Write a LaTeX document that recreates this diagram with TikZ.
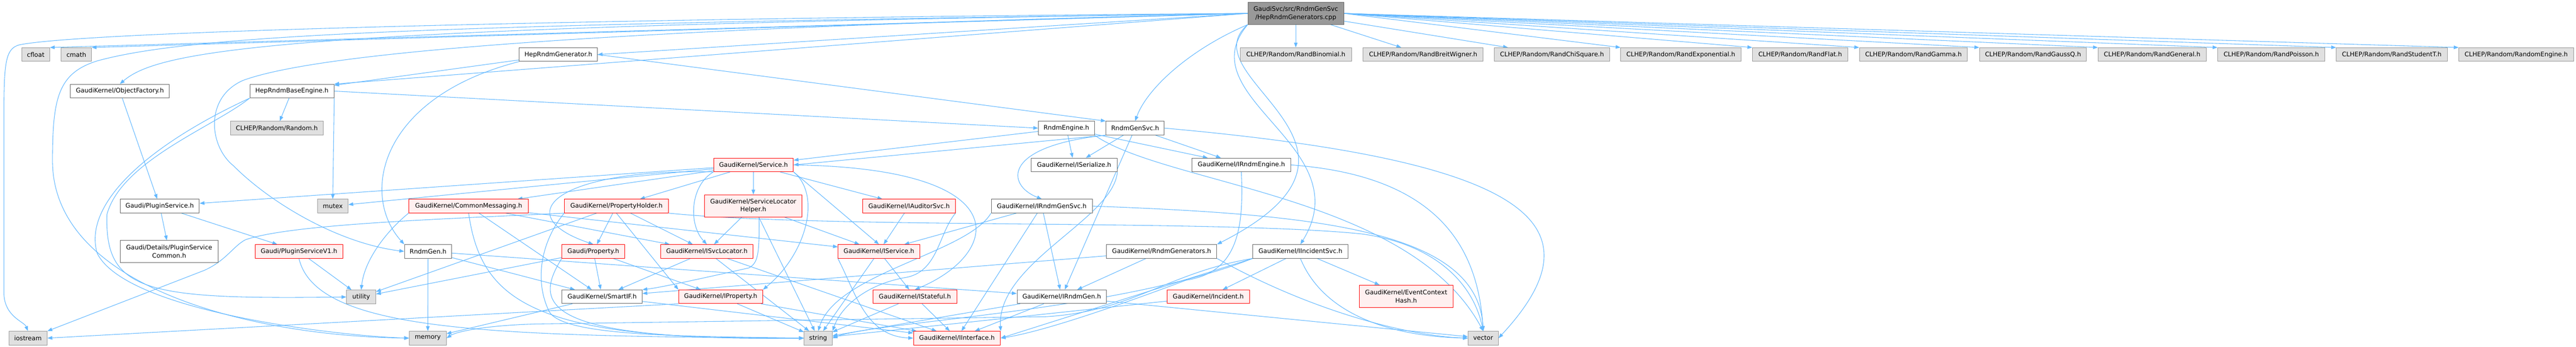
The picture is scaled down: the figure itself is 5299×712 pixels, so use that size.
\documentclass[tikz,border=0pt]{standalone}
\usepackage{fontspec}
\setmainfont{DejaVu Sans}
\usepackage{tikz}
\usetikzlibrary{arrows.meta}
\usetikzlibrary{backgrounds}

\definecolor{deplink}{HTML}{63B8FF}
\definecolor{sysfill}{HTML}{E0E0E0}
\definecolor{sysline}{HTML}{999999}
\definecolor{hdrline}{HTML}{666666}
\definecolor{redfill}{HTML}{FFF0F0}
\definecolor{redline}{HTML}{FF0000}
\definecolor{srcfill}{HTML}{999999}

\begin{document}
\begin{tikzpicture}[
    x=0.75pt, y=-0.75pt, % one unit is one pixel of the graph, y grows downwards
    every node/.style={
        draw, % a box around every file
        line width=0.75pt,
        inner xsep=2pt,
        inner ysep=1pt,
        minimum height=21pt,
        align=center, % two-line names
        font=\fontsize{9.6}{12.6}\selectfont
    },
    boxw/.style={minimum width=#1*0.75pt}, % box width in pixels
    sysfile/.style={fill=sysfill, draw=sysline}, % system and external headers
    hdrfile/.style={fill=white, draw=hdrline}, % plain headers
    redfile/.style={fill=redfill, draw=redline}, % headers with hidden includes
    srcfile/.style={fill=srcfill, draw=hdrline}, % the file itself
    dep/.style={draw=deplink, line width=0.85pt, -{Triangle[length=7.5pt,width=5.5pt]}} % include edge
]
\useasboundingbox (0,0) rectangle (5299,712);

% the source file
\node[srcfile, boxw=197, minimum height=34pt] (main) at (2665.5,27.5) {GaudiSvc/src/RndmGenSvc\\/HepRndmGenerators.cpp};

% first row
\node[sysfile, boxw=57] (cfloat) at (73.5,112) {cfloat};
\node[sysfile, boxw=62] (cmath) at (157,112) {cmath};
\node[hdrfile, boxw=161] (hepgen) at (1148.5,112) {HepRndmGenerator.h};
\node[sysfile, boxw=229] (randbinom) at (2665.5,112) {CLHEP/Random/RandBinomial.h};
\node[sysfile, boxw=247] (randbw) at (2927.5,112) {CLHEP/Random/RandBreitWigner.h};
\node[sysfile, boxw=237] (randchi) at (3192.5,112) {CLHEP/Random/RandChiSquare.h};
\node[sysfile, boxw=247] (randexp) at (3457.5,112) {CLHEP/Random/RandExponential.h};
\node[sysfile, boxw=196] (randflat) at (3703,112) {CLHEP/Random/RandFlat.h};
\node[sysfile, boxw=222] (randgamma) at (3936,112) {CLHEP/Random/RandGamma.h};
\node[sysfile, boxw=220] (randgaussq) at (4182,112) {CLHEP/Random/RandGaussQ.h};
\node[sysfile, boxw=222] (randgeneral) at (4427,112) {CLHEP/Random/RandGeneral.h};
\node[sysfile, boxw=220] (randpoisson) at (4672,112) {CLHEP/Random/RandPoisson.h};
\node[sysfile, boxw=228] (randstudent) at (4920,112) {CLHEP/Random/RandStudentT.h};
\node[sysfile, boxw=236] (randengine) at (5176,112) {CLHEP/Random/RandomEngine.h};

% engines
\node[hdrfile, boxw=203] (objfactory) at (246.5,187) {GaudiKernel/ObjectFactory.h};
\node[hdrfile, boxw=173] (hepbase) at (600.5,187) {HepRndmBaseEngine.h};
\node[sysfile, boxw=191] (clheprandom) at (569.5,263) {CLHEP/Random/Random.h};
\node[hdrfile, boxw=115] (rndmengine) at (2193.5,263) {RndmEngine.h};
\node[hdrfile, boxw=120] (rndmgensvc) at (2335,263) {RndmGenSvc.h};

% service layer
\node[redfile, boxw=164] (service) at (1550,338.5) {GaudiKernel/Service.h};
\node[hdrfile, boxw=177] (iserialize) at (2209.5,338.5) {GaudiKernel/ISerialize.h};
\node[hdrfile, boxw=203] (irndmengine) at (2553.5,338.5) {GaudiKernel/IRndmEngine.h};

\node[hdrfile, boxw=163] (pluginsvc) at (328.5,423) {Gaudi/PluginService.h};
\node[sysfile, boxw=63] (mutex) at (684.5,423) {mutex};
\node[redfile, boxw=246] (commonmsg) at (964,423) {GaudiKernel/CommonMessaging.h};
\node[redfile, boxw=214] (propholder) at (1268,423) {GaudiKernel/PropertyHolder.h};
\node[redfile, boxw=201, minimum height=34pt] (slhelper) at (1549.5,422.5) {GaudiKernel/ServiceLocator\\Helper.h};
\node[redfile, boxw=190] (iauditorsvc) at (1870,423) {GaudiKernel/IAuditorSvc.h};
\node[hdrfile, boxw=208] (irndmgensvc) at (2143,423) {GaudiKernel/IRndmGenSvc.h};

\node[hdrfile, boxw=202, minimum height=34pt] (plugincommon) at (348,516.5) {Gaudi/Details/PluginService\\Common.h};
\node[redfile, boxw=180] (pluginv1) at (615,516) {Gaudi/PluginServiceV1.h};
\node[hdrfile, boxw=97] (rndmgen) at (880.5,516) {RndmGen.h};
\node[redfile, boxw=129] (property) at (1220.5,516) {Gaudi/Property.h};
\node[redfile, boxw=190] (isvclocator) at (1454,516) {GaudiKernel/ISvcLocator.h};
\node[redfile, boxw=168] (iservice) at (1808,516) {GaudiKernel/IService.h};
\node[hdrfile, boxw=227] (rndmgens) at (2389.5,516) {GaudiKernel/RndmGenerators.h};
\node[hdrfile, boxw=196] (iincsvc) at (2675,516) {GaudiKernel/IIncidentSvc.h};

\node[sysfile, boxw=60] (utility) at (743,609.5) {utility};
\node[hdrfile, boxw=165] (smartif) at (1238.5,609) {GaudiKernel/SmartIF.h};
\node[redfile, boxw=173] (iproperty) at (1482.5,609) {GaudiKernel/IProperty.h};
\node[redfile, boxw=172] (istateful) at (1882,609) {GaudiKernel/IStateful.h};
\node[hdrfile, boxw=184] (irndmgen) at (2184,609) {GaudiKernel/IRndmGen.h};
\node[redfile, boxw=169] (incident) at (2485.5,609) {GaudiKernel/Incident.h};
\node[redfile, boxw=193, minimum height=34pt] (evctxhash) at (2892.5,608) {GaudiKernel/EventContext\\Hash.h};

% bottom row
\node[sysfile, boxw=79] (iostream) at (57.5,694) {iostream};
\node[sysfile, boxw=76] (memory) at (880,694) {memory};
\node[sysfile, boxw=58] (string) at (1683,694) {string};
\node[redfile, boxw=179] (iinterface) at (1968.5,694) {GaudiKernel/IInterface.h};
\node[sysfile, boxw=62] (vector) at (3051,694) {vector};

\begin{pgfonlayer}{background}
% includes of the source file
\draw[dep] (main.west) -- (cfloat.north east);
\draw[dep] (main.west) -- (cmath.north east);
\draw[dep] (main.west) .. controls (1500,35) and (200,60) .. (40,92) .. controls (10,100) and (8,130) .. (8,250) -- (8,600) .. controls (8,650) and (50,660) .. (iostream.north);
\draw[dep] (main.west) .. controls (900,50) and (400,70) .. (200,125) .. controls (120,150) and (108,200) .. (108,330) .. controls (108,590) and (520,690) .. (memory.west);
\draw[dep] (main.west) .. controls (600,55) and (330,100) .. (objfactory.north);
\draw[dep] (main.west) -- (hepbase.north east);
\draw[dep] (main.west) -- (hepgen.east);
\draw[dep] (main.west) .. controls (1200,60) and (650,110) .. (500,165) .. controls (420,200) and (430,300) .. (480,340) .. controls (560,420) and (700,500) .. (rndmgen.west);
\draw[dep] (main.south west) .. controls (2450,100) and (2360,180) .. (rndmgensvc.north);
\draw[dep] (main.south west) .. controls (2440,160) and (2900,300) .. (rndmgens.north east);
\draw[dep] (main.south west) .. controls (2440,200) and (2800,300) .. (iincsvc.north);
\draw[dep] (main) -- (randbinom);
\draw[dep] (main) -- (randbw);
\draw[dep] (main) -- (randchi);
\draw[dep] (main.east) -- (randexp.north west);
\draw[dep] (main.east) -- (randflat.north west);
\draw[dep] (main.east) -- (randgamma.north west);
\draw[dep] (main.east) -- (randgaussq.north west);
\draw[dep] (main.east) -- (randgeneral.north west);
\draw[dep] (main.east) -- (randpoisson.north west);
\draw[dep] (main.east) -- (randstudent.north west);
\draw[dep] (main.east) -- (randengine.north west);

% plugin service
\draw[dep] (objfactory) -- (pluginsvc);
\draw[dep] (pluginsvc) -- (plugincommon);
\draw[dep] (pluginsvc) -- (pluginv1);
\draw[dep] (pluginv1) -- (utility);
\draw[dep] (pluginv1.south) .. controls (650,680) and (1000,690) .. (string.west);

% engines and generators
\draw[dep] (hepbase) -- (clheprandom);
\draw[dep] (hepbase.south east) -- (mutex.north);
\draw[dep] (hepbase.south west) .. controls (440,260) and (250,330) .. (220,440) .. controls (215,600) and (300,615) .. (utility.west);
\draw[dep] (hepbase.south west) .. controls (300,300) and (170,420) .. (200,520) .. controls (260,640) and (700,690) .. (memory.west);
\draw[dep] (hepbase.east) -- (rndmengine.west);
\draw[dep] (hepgen) -- (hepbase);
\draw[dep] (hepgen.south west) .. controls (780,200) and (740,400) .. (rndmgen.north west);
\draw[dep] (hepgen.east) -- (rndmgensvc.north west);
\draw[dep] (rndmgen) -- (memory);
\draw[dep] (rndmgen) -- (smartif);
\draw[dep] (rndmgen) -- (irndmgen);
\draw[dep] (rndmengine) -- (service);
\draw[dep] (rndmengine) -- (iserialize);
\draw[dep] (rndmengine) -- (irndmengine);
\draw[dep] (rndmengine.south east) .. controls (2400,380) and (2900,400) .. (vector.north);
\draw[dep] (rndmgensvc.south west) -- (service.east);
\draw[dep] (rndmgensvc) -- (iserialize);
\draw[dep] (rndmgensvc) -- (irndmengine);
\draw[dep] (rndmgensvc.south west) .. controls (2060,300) and (2070,380) .. (irndmgensvc.north);
\draw[dep] (rndmgensvc) -- (irndmgen);
\draw[dep] (rndmgensvc.east) .. controls (3150,330) and (3300,460) .. (vector.east);

% service
\draw[dep] (service) -- (pluginsvc);
\draw[dep] (service) -- (mutex);
\draw[dep] (service) -- (commonmsg);
\draw[dep] (service) -- (propholder);
\draw[dep] (service) -- (slhelper);
\draw[dep] (service.south west) .. controls (1150,345) and (1040,440) .. (property.north);
\draw[dep] (service.south west) .. controls (1420,380) and (1415,460) .. (isvclocator.north);
\draw[dep] (service.south east) .. controls (1690,400) and (1660,520) .. (iproperty.north east);
\draw[dep] (service) -- (iauditorsvc);
\draw[dep] (service.south east) -- (iservice.north);
\draw[dep] (service.east) .. controls (2100,345) and (2060,520) .. (istateful.north);

% kernel headers
\draw[dep] (commonmsg.south west) .. controls (800,470) and (750,530) .. (utility.north);
\draw[dep] (commonmsg) -- (smartif);
\draw[dep] (commonmsg) -- (isvclocator);
\draw[dep] (commonmsg) -- (iservice);
\draw[dep] (commonmsg.south) .. controls (990,620) and (1100,700) .. (string.west);
\draw[dep] (propholder) -- (property);
\draw[dep] (propholder) -- (isvclocator);
\draw[dep] (propholder.south) -- (iproperty.north west);
\draw[dep] (propholder) -- (utility);
\draw[dep] (propholder.south west) .. controls (1110,500) and (1100,580) .. (1130,640) .. controls (1160,690) and (1400,690) .. (string.west);
\draw[dep] (propholder.south west) .. controls (900,450) and (600,460) .. (505,492) .. controls (480,505) and (465,535) .. (420,555) -- (iostream.north east);
\draw[dep] (propholder.south east) .. controls (1700,470) and (2500,450) .. (2800,480) .. controls (2950,500) and (3030,580) .. (vector.north);
\draw[dep] (slhelper) -- (isvclocator);
\draw[dep] (slhelper) -- (iservice);
\draw[dep] ([xshift=9pt]slhelper.south) .. controls (1562,520) and (1560,540) .. (1540,550) .. controls (1450,570) and (1360,590) .. (smartif.north east);
\draw[dep] (slhelper) -- (string);
\draw[dep] (property) -- (utility);
\draw[dep] (property) -- (smartif);
\draw[dep] (property) -- (iproperty);
\draw[dep] (property.south west) .. controls (1100,620) and (1100,700) .. (string.west);
\draw[dep] (isvclocator) -- (smartif);
\draw[dep] (isvclocator) -- (string);
\draw[dep] (isvclocator) -- (iinterface);
\draw[dep] (iauditorsvc) -- (iservice);
\draw[dep] (iauditorsvc.south east) .. controls (1930,480) and (1930,560) .. (1860,570) .. controls (1780,585) and (1730,630) .. (string.north east);
\draw[dep] (irndmgensvc) -- (iservice);
\draw[dep] (irndmgensvc) -- (irndmgen);
\draw[dep] (irndmgensvc) -- (iinterface);
\draw[dep] (irndmgensvc.south west) .. controls (1990,520) and (1720,560) .. (string.north);
\draw[dep] (irndmgensvc.east) .. controls (2700,440) and (3040,470) .. (vector.north);
\draw[dep] (iservice) -- (istateful);
\draw[dep] (iservice.south west) .. controls (1760,600) and (1780,690) .. (iinterface.west);
\draw[dep] (iservice) -- (string);
\draw[dep] (istateful) -- (iinterface);
\draw[dep] (istateful) -- (string);
\draw[dep] (irndmgen) -- (iinterface);
\draw[dep] (irndmgen) -- (string);
\draw[dep] (irndmgen) -- (vector);
\draw[dep] (smartif) -- (memory);
\draw[dep] (smartif) -- (iinterface);
\draw[dep] (iproperty) -- (iinterface);
\draw[dep] (iproperty) -- (string);
\draw[dep] (iproperty.south west) -- (iostream.east);
\draw[dep] (iserialize.south east) .. controls (2290,450) and (2050,540) .. (iinterface.north east);
\draw[dep] (irndmengine.south) .. controls (2560,480) and (2540,560) .. (2440,575) .. controls (2320,620) and (2150,680) .. (iinterface.east);
\draw[dep] (irndmengine.east) .. controls (2950,360) and (3040,500) .. (vector.north);
\draw[dep] (rndmgens) -- (irndmgen);
\draw[dep] (rndmgens) -- (smartif);
\draw[dep] (rndmgens.south east) .. controls (2700,640) and (2900,690) .. (vector.west);
\draw[dep] (iincsvc) -- (incident);
\draw[dep] (iincsvc) -- (evctxhash);
\draw[dep] (iincsvc.south west) -- (iinterface.east);
\draw[dep] (iincsvc.south west) .. controls (2300,640) and (1800,660) .. (string.east);
\draw[dep] (iincsvc.south) .. controls (2720,640) and (2850,690) .. (vector.west);
\draw[dep] (iincsvc.south west) .. controls (2400,560) and (2330,640) .. (2150,650) -- (1100,665) .. controls (1000,668) and (940,680) .. (memory.east);
\draw[dep] (incident) -- (string);
\end{pgfonlayer}
\end{tikzpicture}
\end{document}
